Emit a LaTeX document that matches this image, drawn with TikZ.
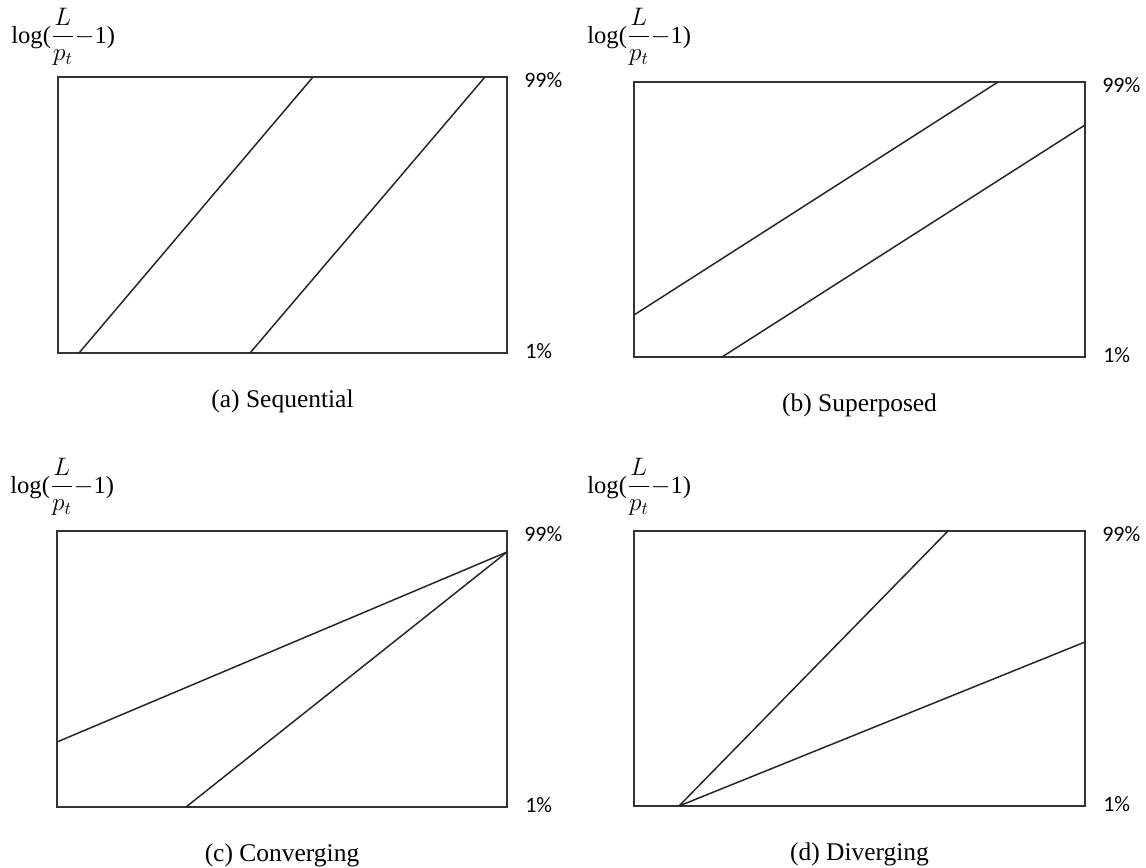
\documentclass[tikz,border=0pt]{standalone}
\usepackage{amsmath}
\usepackage{fontspec}
\setmainfont{Liberation Serif}
\newfontfamily\pctfont{Carlito}
\usetikzlibrary{positioning}
\tikzset{
  frame/.style={draw=black!80,line width=1.1pt},
  trend/.style={draw=black!85,line width=0.85pt},
  caption/.style={font=\fontsize{14.5}{17}\selectfont,anchor=center,inner sep=0pt},
  pct/.style={font=\pctfont\fontsize{12.5}{15}\selectfont,anchor=west,inner sep=0pt},
  ylab/.style={font=\fontsize{14}{17}\selectfont,anchor=west,inner sep=0pt}
}
\begin{document}
\begin{tikzpicture}[x=0.02cm,y=-0.02cm]
  \useasboundingbox (0,0) rectangle (1146,868);
  % four panels: frame, axis label, percent marks, caption
  \foreach \p/\l/\t/\r/\b/\ly/\capt in {a/58/77/507/353/37/Sequential,b/634/82/1085/357/37/Superposed,c/57/531/507/807/487/Converging,d/634/531/1085/806/487/Diverging} {
    \draw[frame] (\l,\t) rectangle (\r,\b);
    \node[ylab] (ylab\p) at (\l-47,\ly) {log($\dfrac{L}{p_t}$$-$1)};
    \node[pct] (hi\p) at (\r+17,\t+3) {99\%};
    \node[pct] (lo\p) at (\r+18,\b-2) {1\%};
    \node[caption] (cap\p) at ({(\l+\r)/2},\b+48) {(\p) \capt};
  }
  % (a) sequential
  \draw[trend] (79,353) -- (313,77);
  \draw[trend] (250,353) -- (485,77);
  % (b) superposed
  \draw[trend] (634,315) -- (998,82);
  \draw[trend] (722,357) -- (1085,125);
  % (c) converging
  \draw[trend] (57,742) -- (507,552);
  \draw[trend] (186,807) -- (507,552);
  % (d) diverging
  \draw[trend] (679,806) -- (948,531);
  \draw[trend] (679,806) -- (1085,642);
\end{tikzpicture}
\end{document}
